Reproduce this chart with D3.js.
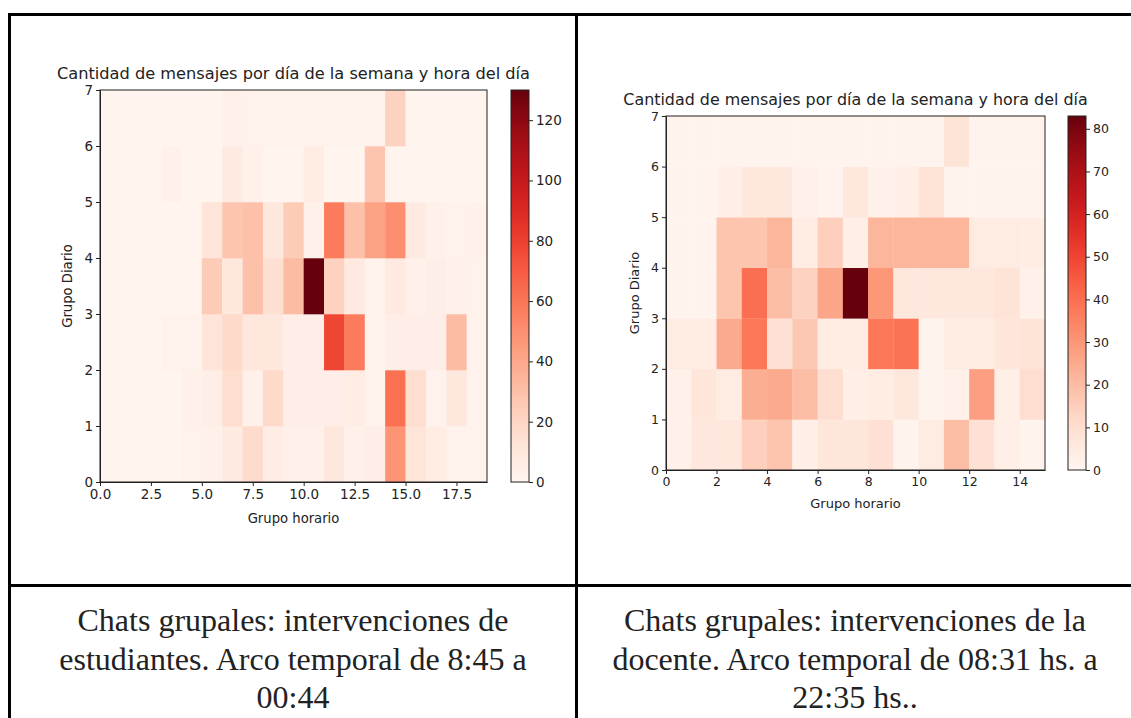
<!DOCTYPE html>
<html>
<head>
<meta charset="utf-8">
<script src="https://cdn.jsdelivr.net/npm/d3@7"></script>
<style>
  body { margin: 0; background: #fff; }
  svg text { fill: #222; }
</style>
</head>
<body>
<div id="chart"></div>
<script>
// Left heatmap: student messages, rows are "Grupo Diario" 0..6 (bottom to top), columns "Grupo horario" 0..18
var estudiantesCounts = [
    [1, 1, 1, 1, 2, 3, 8, 17, 6, 4, 4, 10, 3, 5, 48, 12, 7, 2, 2],
    [1, 1, 1, 1, 3, 5, 16, 4, 18, 5, 5, 5, 7, 2, 62, 16, 2, 10, 2],
    [1, 1, 1, 2, 2, 12, 18, 10, 10, 5, 5, 78, 58, 2, 5, 5, 5, 32, 2],
    [1, 1, 1, 1, 1, 25, 10, 30, 15, 32, 130, 22, 8, 2, 8, 4, 5, 3, 2],
    [1, 1, 1, 1, 1, 12, 28, 30, 10, 25, 3, 58, 30, 42, 50, 8, 4, 2, 3],
    [1, 1, 1, 3, 1, 1, 8, 4, 1, 1, 7, 1, 1, 28, 1, 1, 1, 1, 1],
    [1, 1, 1, 1, 1, 1, 3, 2, 2, 2, 2, 2, 2, 2, 22, 1, 1, 1, 1]
];
var estudiantesXTicks = [0, 2.5, 5, 7.5, 10, 12.5, 15, 17.5];
var estudiantesBarTicks = [0, 20, 40, 60, 80, 100, 120];
var estudiantesMax = 130;

// Right heatmap: teacher messages, columns 0..14
var docenteCounts = [
    [2, 6, 6, 15, 18, 3, 7, 7, 9, 1, 5, 20, 9, 3, 1],
    [2, 7, 5, 24, 25, 20, 10, 3, 4, 6, 1, 2, 28, 3, 10],
    [5, 4, 25, 38, 9, 17, 4, 4, 38, 39, 1, 5, 5, 7, 8],
    [1, 1, 18, 40, 20, 14, 26, 83, 30, 6, 6, 6, 6, 8, 2],
    [1, 1, 18, 18, 22, 4, 15, 3, 22, 22, 22, 22, 5, 5, 4],
    [1, 1, 3, 6, 6, 2, 1, 6, 2, 3, 8, 1, 1, 1, 1],
    [1, 1, 1, 1, 1, 1, 1, 1, 1, 1, 1, 8, 1, 1, 1]
];
var docenteXTicks = [0, 2, 4, 6, 8, 10, 12, 14];
var docenteBarTicks = [0, 10, 20, 30, 40, 50, 60, 70, 80];
var docenteMax = 83;

var yTicks = [0, 1, 2, 3, 4, 5, 6, 7];
var chartTitle = "Cantidad de mensajes por día de la semana y hora del día";
var leftCaption = ["Chats grupales: intervenciones de", "estudiantes. Arco temporal de 8:45 a", "00:44"];
var rightCaption = ["Chats grupales: intervenciones de la", "docente. Arco temporal de 08:31 hs. a", "22:35 hs.."];

var svg = d3.select("#chart")
    .append("svg")
    .attr("width", 1131)
    .attr("height", 718);

var defs = svg.append("defs");

// table borders
var tableGroup = svg.append("g")
    .attr("stroke", "#000")
    .attr("stroke-width", 3);
tableGroup.append("line").attr("x1", 8).attr("x2", 1131).attr("y1", 14.5).attr("y2", 14.5);
tableGroup.append("line").attr("x1", 9.5).attr("x2", 9.5).attr("y1", 13).attr("y2", 718);
tableGroup.append("line").attr("x1", 576.5).attr("x2", 576.5).attr("y1", 13).attr("y2", 718);
tableGroup.append("line").attr("x1", 8).attr("x2", 1131).attr("y1", 585.5).attr("y2", 585.5);

// Function used to draw one heatmap with its colorbar
function drawHeatmap(opts) {
    var counts = opts.counts;
    var nCols = counts[0].length;
    var nRows = counts.length;

    var g = svg.append("g");

    var x = d3.scaleLinear().domain([0, nCols]).range([opts.left, opts.right]);
    var y = d3.scaleLinear().domain([0, nRows]).range([opts.bottom, opts.top]);
    var color = d3.scaleSequential(d3.interpolateReds).domain([0, opts.vmax]);

    var cells = [];
    counts.forEach(function(row, r) {
        row.forEach(function(v, c) {
            cells.push({ col: c, row: r, value: v });
        });
    });

    g.selectAll("rect.cell")
        .data(cells)
        .enter()
        .append("rect")
        .attr("class", "cell")
        .attr("x", d => x(d.col))
        .attr("y", d => y(d.row + 1))
        .attr("width", d => x(d.col + 1) - x(d.col) + 0.3)
        .attr("height", d => y(d.row) - y(d.row + 1) + 0.3)
        .attr("fill", d => color(d.value));

    // frame
    g.append("rect")
        .attr("x", opts.left)
        .attr("y", opts.top)
        .attr("width", opts.right - opts.left)
        .attr("height", opts.bottom - opts.top)
        .attr("fill", "none")
        .attr("stroke", "#222")
        .attr("stroke-width", 1);

    var bottomAxis = d3.axisBottom(x)
        .tickValues(opts.xTicks)
        .tickFormat(opts.xFormat)
        .tickSize(4)
        .tickSizeOuter(0)
        .tickPadding(3);
    var leftAxis = d3.axisLeft(y)
        .tickValues(yTicks)
        .tickFormat(d3.format("d"))
        .tickSize(4)
        .tickSizeOuter(0)
        .tickPadding(3);

    var xAxis = g.append("g")
        .attr("transform", `translate(0, ${opts.bottom})`)
        .call(bottomAxis);
    var yAxis = g.append("g")
        .attr("transform", `translate(${opts.left}, 0)`)
        .call(leftAxis);

    [xAxis, yAxis].forEach(function(a) {
        a.select(".domain").attr("stroke", "#222");
        a.selectAll(".tick line").attr("stroke", "#222");
        a.selectAll(".tick text")
            .attr("font-family", "DejaVu Sans")
            .attr("font-size", opts.tickSize)
            .attr("fill", "#222");
    });

    // title
    g.append("text")
        .attr("x", (opts.left + opts.right) / 2 + opts.titleShift)
        .attr("y", opts.top - 11)
        .attr("text-anchor", "middle")
        .attr("font-family", "DejaVu Sans")
        .attr("font-size", opts.titleSize)
        .text(chartTitle);

    // axis labels
    g.append("text")
        .attr("x", (opts.left + opts.right) / 2)
        .attr("y", opts.bottom + opts.xLabelOffset)
        .attr("text-anchor", "middle")
        .attr("font-family", "DejaVu Sans")
        .attr("font-size", opts.labelSize)
        .text("Grupo horario");

    g.append("text")
        .attr("transform", "rotate(-90)")
        .attr("x", -(opts.top + opts.bottom) / 2)
        .attr("y", opts.left - opts.yLabelOffset)
        .attr("text-anchor", "middle")
        .attr("font-family", "DejaVu Sans")
        .attr("font-size", opts.labelSize)
        .text("Grupo Diario");

    // colorbar
    var gradId = "grad" + opts.id;
    var grad = defs.append("linearGradient")
        .attr("id", gradId)
        .attr("x1", 0).attr("y1", 1)
        .attr("x2", 0).attr("y2", 0);
    d3.range(0, 1.0001, 0.05).forEach(function(t) {
        grad.append("stop")
            .attr("offset", t)
            .attr("stop-color", d3.interpolateReds(t));
    });

    g.append("rect")
        .attr("x", opts.barLeft)
        .attr("y", opts.top)
        .attr("width", opts.barWidth)
        .attr("height", opts.bottom - opts.top)
        .attr("fill", `url(#${gradId})`)
        .attr("stroke", "#222")
        .attr("stroke-width", 1);

    var barScale = d3.scaleLinear().domain([0, opts.vmax]).range([opts.bottom, opts.top]);
    var barAxis = d3.axisRight(barScale)
        .tickValues(opts.barTicks)
        .tickSize(4)
        .tickSizeOuter(0)
        .tickPadding(3);
    var barG = g.append("g")
        .attr("transform", `translate(${opts.barLeft + opts.barWidth}, 0)`)
        .call(barAxis);
    barG.select(".domain").remove();
    barG.selectAll(".tick line").attr("stroke", "#222");
    barG.selectAll(".tick text")
        .attr("font-family", "DejaVu Sans")
        .attr("font-size", opts.tickSize)
        .attr("fill", "#222");
}

drawHeatmap({
    id: "est",
    counts: estudiantesCounts,
    vmax: estudiantesMax,
    left: 100, right: 487, top: 90, bottom: 482,
    xTicks: estudiantesXTicks,
    xFormat: d3.format(".1f"),
    barTicks: estudiantesBarTicks,
    barLeft: 511, barWidth: 18,
    tickSize: 13.5, labelSize: 13.2, titleSize: 16.2, titleShift: 0,
    xLabelOffset: 41, yLabelOffset: 28
});

drawHeatmap({
    id: "doc",
    counts: docenteCounts,
    vmax: docenteMax,
    left: 666, right: 1045, top: 116, bottom: 470,
    xTicks: docenteXTicks,
    xFormat: d3.format("d"),
    barTicks: docenteBarTicks,
    barLeft: 1068, barWidth: 18,
    tickSize: 12.5, labelSize: 13, titleSize: 15.9, titleShift: 0,
    xLabelOffset: 38, yLabelOffset: 27
});

// captions
function drawCaption(lines, cx) {
    svg.append("g")
        .selectAll("text")
        .data(lines)
        .enter()
        .append("text")
        .attr("x", cx)
        .attr("y", (d, i) => 631 + i * 38.5)
        .attr("text-anchor", "middle")
        .attr("font-family", "Liberation Serif")
        .attr("font-size", 32)
        .attr("fill", "#000")
        .text(d => d);
}
drawCaption(leftCaption, 293);
drawCaption(rightCaption, 855);
</script>
</body>
</html>
